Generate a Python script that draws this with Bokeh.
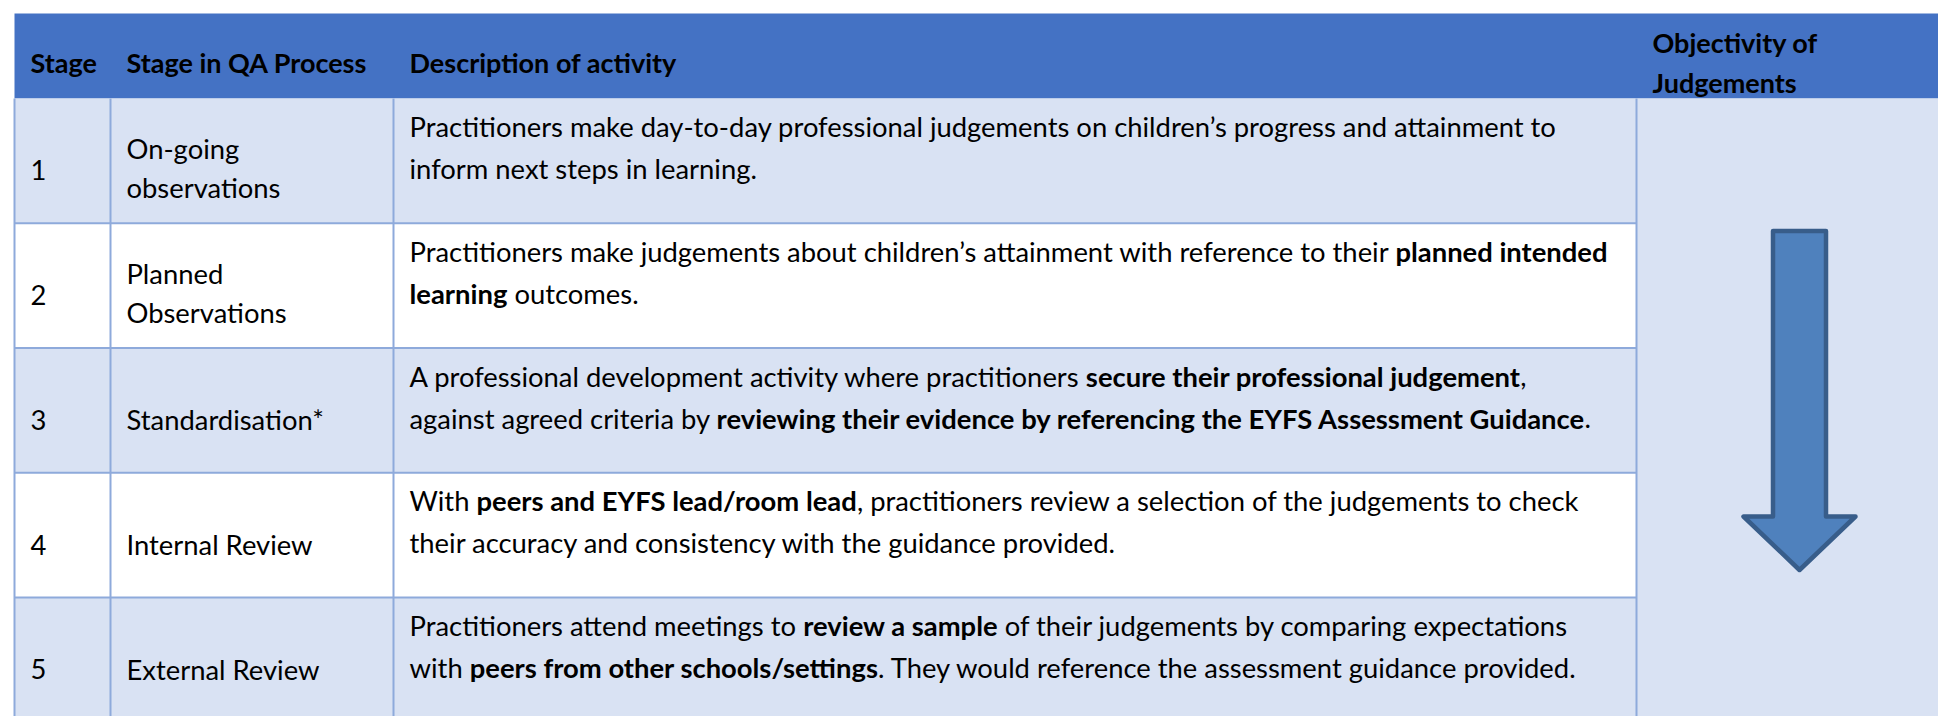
import os
import glob
import subprocess

from bokeh.plotting import figure
from bokeh.models import Range1d, ColumnDataSource
from bokeh.embed import file_html
from bokeh.resources import INLINE
from bokeh.core.properties import value

# ------------------------------------------------------------------ data
header_labels = ["Stage", "Stage in QA Process", "Description of activity", "Objectivity of\nJudgements"]
stages = ["1", "2", "3", "4", "5"]
qa_stages = ["On-going\nobservations", "Planned\nObservations", "Standardisation*",
             "Internal Review", "External Review"]
# each description: list of lines, each line: list of (text, bold)
descriptions = [
    [[("Practitioners make day-to-day professional judgements on children\u2019s progress and attainment to", False)],
     [("inform next steps in learning.", False)]],
    [[("Practitioners make judgements about children\u2019s attainment with reference to their ", False),
      ("planned intended", True)],
     [("learning", True), (" outcomes.", False)]],
    [[("A professional development activity where practitioners ", False),
      ("secure their professional judgement", True), (",", False)],
     [("against agreed criteria by ", False),
      ("reviewing their evidence by referencing the EYFS Assessment Guidance", True), (".", False)]],
    [[("With ", False), ("peers and EYFS lead/room lead", True),
      (", practitioners review a selection of the judgements to check", False)],
     [("their accuracy and consistency with the guidance provided.", False)]],
    [[("Practitioners attend meetings to ", False), ("review a sample", True),
      (" of their judgements by comparing expectations", False)],
     [("with ", False), ("peers from other schools/settings", True),
      (". They would reference the assessment guidance provided.", False)]],
]

# ------------------------------------------------------------------ style / layout
FONT = "Lato"
SIZE = 27.4
HEAD_SIZE = 27.0
HEADER_BLUE = "#4472C4"
LIGHT = "#D9E2F3"
GRID = "#8EAADB"
ARROW_FILL = "#4F81BD"
ARROW_LINE = "#385D8A"

W, H = 1938, 716
LEFT = 14
COLS = [14, 110, 393, 1636]
TEXT_X = [30, 126, 409, 1652]
HEAD_TOP, HEAD_BOT = 13, 98
ROW_H = 124.75


# ------------------------------------------------------------------ text measuring
def _find_font(bold):
    style = "Bold" if bold else "Regular"
    roots = ["/usr/share/fonts", "/usr/local/share/fonts",
             os.path.expanduser("~/.fonts"), os.path.expanduser("~/.local/share/fonts")]
    for root in roots:
        for ext in ("ttf", "otf"):
            hits = glob.glob(os.path.join(root, "**", f"Lato-{style}.{ext}"), recursive=True)
            if hits:
                return hits[0]
    try:
        out = subprocess.run(["fc-match", "-f", "%{file}", f"Lato:style={style}"],
                             capture_output=True, text=True).stdout.strip()
        if out and os.path.exists(out) and "lato" in out.lower():
            return out
    except Exception:
        pass
    return None


_measure = None
try:
    from PIL import ImageFont, features
    _layout = ImageFont.Layout.RAQM if features.check("raqm") else ImageFont.Layout.BASIC
    _files = {b: _find_font(b) for b in (False, True)}
    if all(_files.values()):
        _big = 1000
        _fonts = {b: ImageFont.truetype(_files[b], _big, layout_engine=_layout) for b in (False, True)}

        def _measure(s, bold, size):
            return _fonts[bold].getlength(s) * size / _big
except Exception:
    _measure = None

if _measure is None:
    def _measure(s, bold, size):
        w = 0.0
        for ch in s:
            if ch == " ":
                w += 0.26
            elif ch in "ijlt.,'\u2019/-":
                w += 0.28
            elif ch in "mwMW":
                w += 0.85
            elif ch.isupper():
                w += 0.65
            else:
                w += 0.53
        return w * size * (1.04 if bold else 1.0)


# ------------------------------------------------------------------ figure
p = figure(width=W, height=H, x_range=Range1d(0, W), y_range=Range1d(H, 0),
           x_axis_type=None, y_axis_type=None, toolbar_location=None,
           output_backend="svg", min_border=0)
p.outline_line_color = None
p.grid.visible = False
p.background_fill_color = "white"
p.border_fill_color = "white"

n = len(stages)
row_tops = [HEAD_BOT + i * ROW_H for i in range(n)]
table_bottom = HEAD_BOT + n * ROW_H

# header band
p.quad(left=[LEFT], right=[W + 20], top=[HEAD_TOP], bottom=[HEAD_BOT],
       fill_color=HEADER_BLUE, line_color=None)

# row backgrounds (alternate light / white) for first three columns
p.quad(left=[LEFT] * n, right=[COLS[3]] * n, top=row_tops,
       bottom=[t + ROW_H for t in row_tops],
       fill_color=[LIGHT if i % 2 == 0 else "white" for i in range(n)], line_color=None)

# merged objectivity column
p.quad(left=[COLS[3]], right=[W + 20], top=[HEAD_BOT], bottom=[table_bottom],
       fill_color=LIGHT, line_color=None)

# grid lines
hx0, hx1, hy = [], [], []
for t in row_tops[1:]:
    hx0.append(LEFT); hx1.append(COLS[3]); hy.append(t)
p.segment(x0=hx0, y0=hy, x1=hx1, y1=hy, line_color=GRID, line_width=2)
p.segment(x0=COLS, y0=[HEAD_BOT] * len(COLS), x1=COLS, y1=[table_bottom] * len(COLS),
          line_color=GRID, line_width=2)

# arrow in the merged column
ax = 1799
shaft_half, head_half = 26.5, 56
a_top, a_neck, a_tip = 230.5, 516, 569.5
arrow_x = [ax - shaft_half, ax + shaft_half, ax + shaft_half, ax + head_half, ax,
           ax - head_half, ax - shaft_half]
arrow_y = [a_top, a_top, a_neck, a_neck, a_tip, a_neck, a_neck]
p.patch(arrow_x, arrow_y, fill_color=ARROW_FILL, line_color=ARROW_LINE,
        line_width=4.5, line_join="round")

# ------------------------------------------------------------------ texts
reg = dict(x=[], y=[], text=[])
bold = dict(x=[], y=[], text=[])
hdr = dict(x=[], y=[], text=[])


def put(store, x, y, s):
    store["x"].append(x); store["y"].append(y); store["text"].append(s)


# header
for ci, lab in enumerate(header_labels):
    lines = lab.split("\n")
    if len(lines) == 1:
        put(hdr, TEXT_X[ci], 62, lines[0])
    else:
        for li, ln in enumerate(lines):
            put(hdr, TEXT_X[ci], 42 + li * 40, ln)

for i in range(n):
    top = row_tops[i]
    mid = top + ROW_H / 2
    put(reg, TEXT_X[0], mid + 9.5, stages[i])
    lines = qa_stages[i].split("\n")
    if len(lines) == 1:
        put(reg, TEXT_X[1], mid + 9.5, lines[0])
    else:
        put(reg, TEXT_X[1], mid - 12.5, lines[0])
        put(reg, TEXT_X[1], mid + 27, lines[1])
    for li, segs in enumerate(descriptions[i]):
        y = top + 28 + li * 42
        x = TEXT_X[2]
        for s, b in segs:
            lead = len(s) - len(s.lstrip(" "))
            xs = x + _measure(s[:lead], b, SIZE)
            put(bold if b else reg, xs, y, s.strip(" "))
            x += _measure(s, b, SIZE)

common = dict(text_font=value(FONT), text_color="black",
              text_baseline="alphabetic", text_align="left")
p.text(x="x", y="y", text="text", source=ColumnDataSource(reg), text_font_style="normal",
       text_font_size=f"{SIZE:g}px", **common)
p.text(x="x", y="y", text="text", source=ColumnDataSource(bold), text_font_style="bold",
       text_font_size=f"{SIZE:g}px", **common)
p.text(x="x", y="y", text="text", source=ColumnDataSource(hdr), text_font_style="bold",
       text_font_size=f"{HEAD_SIZE:g}px", **common)

open("out.html", "w").write(file_html(p, INLINE))
